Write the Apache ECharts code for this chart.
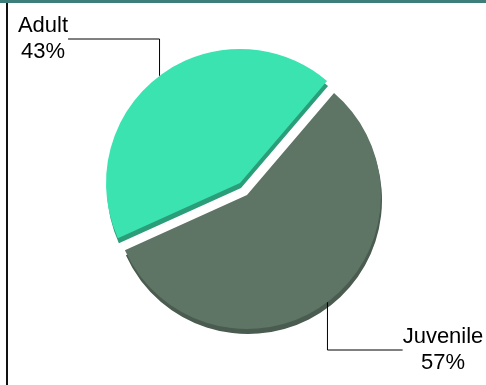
<!DOCTYPE html>
<html><head><meta charset="utf-8">
<script src="https://cdn.jsdelivr.net/npm/echarts@6.0.0/dist/echarts.min.js"></script>
<style>html,body{margin:0;padding:0;background:#fff}#c{width:486px;height:385px}</style>
</head><body><div id="c"></div><script>
// ---- data ----
const categories = ['Juvenile', 'Adult'];
const values = [57, 43];

// ---- styles ----
const faceColors = ['#5e7465', '#3be3b0'];
const sideColors = ['#4a5b4f', '#2a9d79'];

// ---- layout ----
const R = 134;
const START = 49.5;
const faceCenters = [[247, 195], [240, 183]];
const depth = [1, 5];
const labelAnchors = [
  { x: 443, y: 350, side: 'left' },   // Juvenile: line reaches left edge of text
  { x: 43,  y: 39,  side: 'right' }   // Adult: line reaches right edge of text
];

function pieSeries(idx, center, colors, withLabel, z) {
  const s = {
    type: 'pie', z: z, center: center, radius: R, startAngle: START, clockwise: true,
    silent: true, animation: false, avoidLabelOverlap: false,
    emphasis: { disabled: true },
    itemStyle: { borderWidth: 0 },
    label: { show: false }, labelLine: { show: false },
    data: categories.map((name, i) => ({
      name: name, value: values[i],
      itemStyle: { color: i === idx ? colors[i] : 'rgba(0,0,0,0)', borderWidth: 0 },
      label: {
        show: withLabel && i === idx, position: 'outside',
        formatter: '{b}\n{d}%', color: '#000',
        fontFamily: 'Liberation Sans, Arial, sans-serif', fontSize: 22, lineHeight: 26,
        align: 'center'
      },
      labelLine: {
        show: withLabel && i === idx,
        lineStyle: { color: '#000', width: 1 }
      }
    }))
  };
  if (withLabel) {
    s.labelLayout = function (p) {
      const a = labelAnchors[p.dataIndex];
      const pts = p.labelLinePoints;
      if (!pts || !a) return {};
      const e = pts[0];
      const w = p.labelRect.width;
      const endX = a.side === 'right' ? a.x + w / 2 : a.x - w / 2;
      return {
        x: a.x, y: a.y, align: 'center', verticalAlign: 'middle',
        labelLinePoints: [[e[0], e[1]], [e[0], a.y], [endX, a.y]]
      };
    };
  }
  return s;
}

const series = [];
categories.forEach((c, i) => {
  const ctr = faceCenters[i];
  series.push(pieSeries(i, [ctr[0] + depth[0], ctr[1] + depth[1]], sideColors, false, 1));
});
categories.forEach((c, i) => {
  series.push(pieSeries(i, faceCenters[i], faceColors, true, 2));
});

const chart = echarts.init(document.getElementById('c'), null, { renderer: 'canvas' });
chart.setOption({
  backgroundColor: '#fff',
  animation: false,
  series: series,
  graphic: [
    { type: 'rect', silent: true, z: 10, shape: { x: 0, y: 0, width: 486, height: 3 }, style: { fill: '#3e7e7a' } },
    { type: 'rect', silent: true, z: 10, shape: { x: 6, y: 3, width: 2, height: 382 }, style: { fill: '#111' } }
  ]
});
</script></body></html>
